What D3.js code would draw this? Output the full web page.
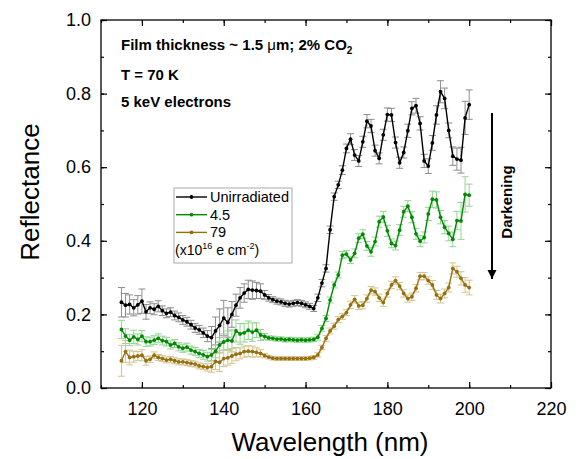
<!DOCTYPE html>
<html>
<head>
<meta charset="utf-8">
<script src="https://d3js.org/d3.v7.min.js"></script>
<style>
  body { margin: 0; background: #fff; }
  svg text { font-family: "Liberation Sans", Arial, sans-serif; }
</style>
</head>
<body>
<svg id="chart"></svg>
<script>
// wavelengths (nm)
const wavelength = [115,116,117,118,119,120,121,122,123,124,125,126,127,128,129,130,131,132,133,134,135,136,137,138,139,140,141,142,143,144,145,146,147,148,149,150,151,152,153,154,155,156,157,158,159,160,161,162,163,164,165,166,167,168,169,170,171,172,173,174,175,176,177,178,179,180,181,182,183,184,185,186,187,188,189,190,191,192,193,194,195,196,197,198,199,200];

const unirradiated = [0.233,0.225,0.227,0.218,0.226,0.236,0.207,0.218,0.214,0.222,0.210,0.203,0.206,0.197,0.192,0.185,0.180,0.172,0.163,0.158,0.150,0.141,0.137,0.155,0.170,0.190,0.178,0.200,0.225,0.245,0.258,0.268,0.266,0.265,0.263,0.253,0.245,0.240,0.236,0.234,0.230,0.228,0.230,0.232,0.230,0.226,0.222,0.216,0.245,0.285,0.325,0.430,0.520,0.552,0.592,0.651,0.676,0.633,0.617,0.669,0.725,0.712,0.645,0.624,0.688,0.743,0.742,0.667,0.612,0.640,0.699,0.760,0.767,0.719,0.617,0.603,0.666,0.742,0.805,0.787,0.700,0.630,0.622,0.619,0.734,0.770];
const unirradiatedErr = [0.040,0.032,0.026,0.022,0.025,0.033,0.020,0.016,0.015,0.015,0.013,0.012,0.012,0.012,0.012,0.012,0.012,0.012,0.012,0.012,0.013,0.015,0.030,0.038,0.045,0.048,0.040,0.035,0.030,0.028,0.025,0.025,0.025,0.022,0.020,0.012,0.009,0.008,0.008,0.008,0.008,0.008,0.008,0.008,0.008,0.008,0.008,0.008,0.010,0.010,0.010,0.010,0.010,0.010,0.012,0.012,0.015,0.015,0.015,0.015,0.018,0.018,0.015,0.015,0.015,0.018,0.018,0.015,0.015,0.015,0.018,0.018,0.020,0.018,0.018,0.020,0.020,0.025,0.030,0.028,0.020,0.025,0.030,0.035,0.045,0.040];

const dose45 = [0.159,0.141,0.130,0.139,0.132,0.141,0.126,0.126,0.130,0.135,0.129,0.126,0.117,0.121,0.112,0.108,0.111,0.103,0.099,0.094,0.090,0.085,0.090,0.100,0.117,0.125,0.130,0.128,0.155,0.147,0.150,0.157,0.152,0.157,0.144,0.140,0.136,0.135,0.133,0.133,0.131,0.132,0.131,0.130,0.131,0.130,0.131,0.132,0.138,0.162,0.189,0.239,0.280,0.307,0.361,0.364,0.348,0.366,0.407,0.418,0.386,0.370,0.398,0.452,0.465,0.427,0.393,0.387,0.429,0.479,0.494,0.464,0.419,0.399,0.409,0.473,0.513,0.511,0.464,0.437,0.420,0.404,0.455,0.454,0.526,0.524];
const dose45Err = [0.025,0.020,0.015,0.018,0.015,0.015,0.013,0.012,0.012,0.012,0.012,0.012,0.011,0.011,0.011,0.011,0.011,0.011,0.011,0.011,0.012,0.012,0.015,0.018,0.020,0.022,0.025,0.030,0.030,0.028,0.025,0.025,0.025,0.020,0.015,0.008,0.006,0.006,0.006,0.006,0.006,0.006,0.006,0.006,0.006,0.006,0.006,0.006,0.008,0.008,0.008,0.008,0.008,0.008,0.010,0.010,0.010,0.012,0.012,0.012,0.012,0.012,0.012,0.015,0.015,0.015,0.012,0.012,0.015,0.015,0.015,0.015,0.015,0.015,0.015,0.018,0.022,0.022,0.018,0.018,0.020,0.020,0.025,0.050,0.048,0.030];

const dose79 = [0.074,0.099,0.083,0.085,0.087,0.089,0.074,0.078,0.089,0.083,0.080,0.076,0.078,0.074,0.071,0.071,0.069,0.067,0.065,0.060,0.058,0.056,0.058,0.072,0.070,0.080,0.082,0.087,0.092,0.094,0.099,0.100,0.099,0.097,0.094,0.088,0.084,0.081,0.080,0.080,0.080,0.080,0.080,0.080,0.080,0.080,0.081,0.083,0.090,0.110,0.135,0.155,0.168,0.186,0.194,0.205,0.226,0.241,0.223,0.225,0.243,0.266,0.262,0.245,0.232,0.257,0.280,0.292,0.277,0.257,0.243,0.248,0.271,0.304,0.304,0.292,0.280,0.253,0.243,0.257,0.273,0.325,0.316,0.298,0.280,0.273];
const dose79Err = [0.042,0.030,0.020,0.015,0.012,0.015,0.012,0.009,0.009,0.008,0.008,0.008,0.008,0.008,0.008,0.008,0.008,0.008,0.008,0.008,0.008,0.010,0.015,0.022,0.025,0.022,0.020,0.020,0.018,0.015,0.015,0.015,0.015,0.012,0.010,0.006,0.005,0.005,0.005,0.005,0.005,0.005,0.005,0.005,0.005,0.005,0.005,0.005,0.006,0.006,0.008,0.008,0.008,0.008,0.008,0.008,0.010,0.010,0.010,0.010,0.010,0.010,0.010,0.010,0.010,0.010,0.010,0.010,0.010,0.010,0.010,0.010,0.010,0.010,0.010,0.010,0.012,0.012,0.012,0.012,0.012,0.015,0.015,0.018,0.020,0.020];

const xTicks = [120, 140, 160, 180, 200, 220];
const yTicks = [0.0, 0.2, 0.4, 0.6, 0.8, 1.0];

const legendLabels = ["Unirradiated", "4.5", "79"];

const W = 582, H = 459;
const plot = { left: 101, right: 551, top: 20, bottom: 388 };

const series = [
  { name: legendLabels[0], values: unirradiated, errs: unirradiatedErr, color: "#000000", errColor: "#8e8e8e" },
  { name: legendLabels[1], values: dose45, errs: dose45Err, color: "#008a00", errColor: "#93d493" },
  { name: legendLabels[2], values: dose79, errs: dose79Err, color: "#94700f", errColor: "#d6c38e" }
];

const svg = d3.select("#chart").attr("width", W).attr("height", H);

const x = d3.scaleLinear().domain([110, 220]).range([plot.left, plot.right]);
const y = d3.scaleLinear().domain([0, 1]).range([plot.bottom, plot.top]);

// error bars first so lines sit on top
series.forEach(s => {
  const g = svg.append("g").attr("stroke", s.errColor).attr("stroke-width", 1);
  wavelength.forEach((w, i) => {
    const cx = x(w), lo = y(s.values[i] - s.errs[i]), hi = y(s.values[i] + s.errs[i]);
    g.append("line").attr("x1", cx).attr("x2", cx).attr("y1", lo).attr("y2", hi);
    g.append("line").attr("x1", cx - 3.5).attr("x2", cx + 3.5).attr("y1", lo).attr("y2", lo);
    g.append("line").attr("x1", cx - 3.5).attr("x2", cx + 3.5).attr("y1", hi).attr("y2", hi);
  });
});

const line = d3.line().x((d, i) => x(wavelength[i])).y(d => y(d));

series.forEach(s => {
  svg.append("path")
    .attr("d", line(s.values))
    .attr("fill", "none")
    .attr("stroke", s.color)
    .attr("stroke-width", 1.4);
  svg.append("g").selectAll("circle")
    .data(s.values)
    .enter().append("circle")
    .attr("cx", (d, i) => x(wavelength[i]))
    .attr("cy", d => y(d))
    .attr("r", 1.9)
    .attr("fill", s.color);
});

// axes: ticks point inward on all four sides
const axisStyle = g => {
  g.select(".domain").remove();
  g.selectAll("line").attr("stroke", "#000").attr("stroke-width", 1.2);
};
const xMinor = d3.range(110, 221, 10);
const yMinor = d3.range(0, 1.01, 0.1);

svg.append("g").attr("transform", `translate(0,${plot.bottom})`)
  .call(d3.axisBottom(x).tickValues(xMinor).tickSize(-3).tickFormat(""))
  .call(axisStyle);
svg.append("g").attr("transform", `translate(0,${plot.bottom})`)
  .call(d3.axisBottom(x).tickValues(xTicks).tickSize(-6).tickPadding(14).tickFormat(d3.format("d")))
  .call(axisStyle)
  .selectAll("text").attr("font-size", 18).attr("fill", "#000");
svg.append("g").attr("transform", `translate(0,${plot.top})`)
  .call(d3.axisTop(x).tickValues(xMinor).tickSize(-3).tickFormat(""))
  .call(axisStyle);
svg.append("g").attr("transform", `translate(0,${plot.top})`)
  .call(d3.axisTop(x).tickValues(xTicks).tickSize(-6).tickFormat(""))
  .call(axisStyle);

svg.append("g").attr("transform", `translate(${plot.left},0)`)
  .call(d3.axisLeft(y).tickValues(yMinor).tickSize(-3).tickFormat(""))
  .call(axisStyle);
svg.append("g").attr("transform", `translate(${plot.left},0)`)
  .call(d3.axisLeft(y).tickValues(yTicks).tickSize(-6).tickPadding(10).tickFormat(d3.format(".1f")))
  .call(axisStyle)
  .selectAll("text").attr("font-size", 18).attr("fill", "#000");
svg.append("g").attr("transform", `translate(${plot.right},0)`)
  .call(d3.axisRight(y).tickValues(yMinor).tickSize(-3).tickFormat(""))
  .call(axisStyle);
svg.append("g").attr("transform", `translate(${plot.right},0)`)
  .call(d3.axisRight(y).tickValues(yTicks).tickSize(-6).tickFormat(""))
  .call(axisStyle);

// frame
svg.append("rect")
  .attr("x", plot.left).attr("y", plot.top)
  .attr("width", plot.right - plot.left).attr("height", plot.bottom - plot.top)
  .attr("fill", "none").attr("stroke", "#000").attr("stroke-width", 1.3);

// axis titles
svg.append("text")
  .attr("x", 330).attr("y", 451)
  .attr("text-anchor", "middle").attr("font-size", 26)
  .text("Wavelength (nm)");
svg.append("text")
  .attr("transform", "translate(39,192) rotate(-90)")
  .attr("text-anchor", "middle").attr("font-size", 26)
  .text("Reflectance");

// annotations
const note = svg.append("g").attr("font-size", 15).attr("font-weight", "bold");
const t1 = note.append("text").attr("x", 121).attr("y", 50);
t1.append("tspan").text("Film thickness ~ 1.5 ");
t1.append("tspan").attr("font-weight", "normal").text("μ");
t1.append("tspan").text("m; 2% CO");
t1.append("tspan").attr("font-size", 10).attr("dy", 4).text("2");
note.append("text").attr("x", 121).attr("y", 80).text("T = 70 K");
note.append("text").attr("x", 121).attr("y", 107).text("5 keV electrons");

// legend
const legend = svg.append("g");
legend.append("rect")
  .attr("x", 174).attr("y", 188).attr("width", 118).attr("height", 75)
  .attr("fill", "#fff").attr("stroke", "#aaa").attr("stroke-width", 1);
series.forEach((s, i) => {
  const ly = 197 + i * 17.7;
  legend.append("line").attr("x1", 176).attr("x2", 207).attr("y1", ly).attr("y2", ly)
    .attr("stroke", s.color).attr("stroke-width", 1.4);
  legend.append("circle").attr("cx", 191.5).attr("cy", ly).attr("r", 1.9).attr("fill", s.color);
  legend.append("text").attr("x", 210).attr("y", ly + 5).attr("font-size", 14.5).text(s.name);
});
const unit = legend.append("text").attr("x", 175).attr("y", 255).attr("font-size", 14);
unit.append("tspan").text("(x10");
unit.append("tspan").attr("font-size", 9).attr("dy", -6).text("16");
unit.append("tspan").attr("dy", 6).text(" e cm");
unit.append("tspan").attr("font-size", 9).attr("dy", -6).text("-2");
unit.append("tspan").attr("dy", 6).text(")");

// darkening arrow
svg.append("defs").append("marker")
  .attr("id", "head").attr("viewBox", "0 0 10 10").attr("refX", 10).attr("refY", 5)
  .attr("markerWidth", 4.5).attr("markerHeight", 5).attr("markerUnits", "strokeWidth").attr("orient", "auto")
  .append("path").attr("d", "M0,0 L10,5 L0,10 Z").attr("fill", "#000");
svg.append("line")
  .attr("x1", 492).attr("x2", 492).attr("y1", 113).attr("y2", 279)
  .attr("stroke", "#000").attr("stroke-width", 2).attr("marker-end", "url(#head)");
svg.append("text")
  .attr("transform", "translate(512,202) rotate(-90)")
  .attr("text-anchor", "middle").attr("font-size", 15).attr("font-weight", "bold")
  .text("Darkening");
</script>
</body>
</html>
